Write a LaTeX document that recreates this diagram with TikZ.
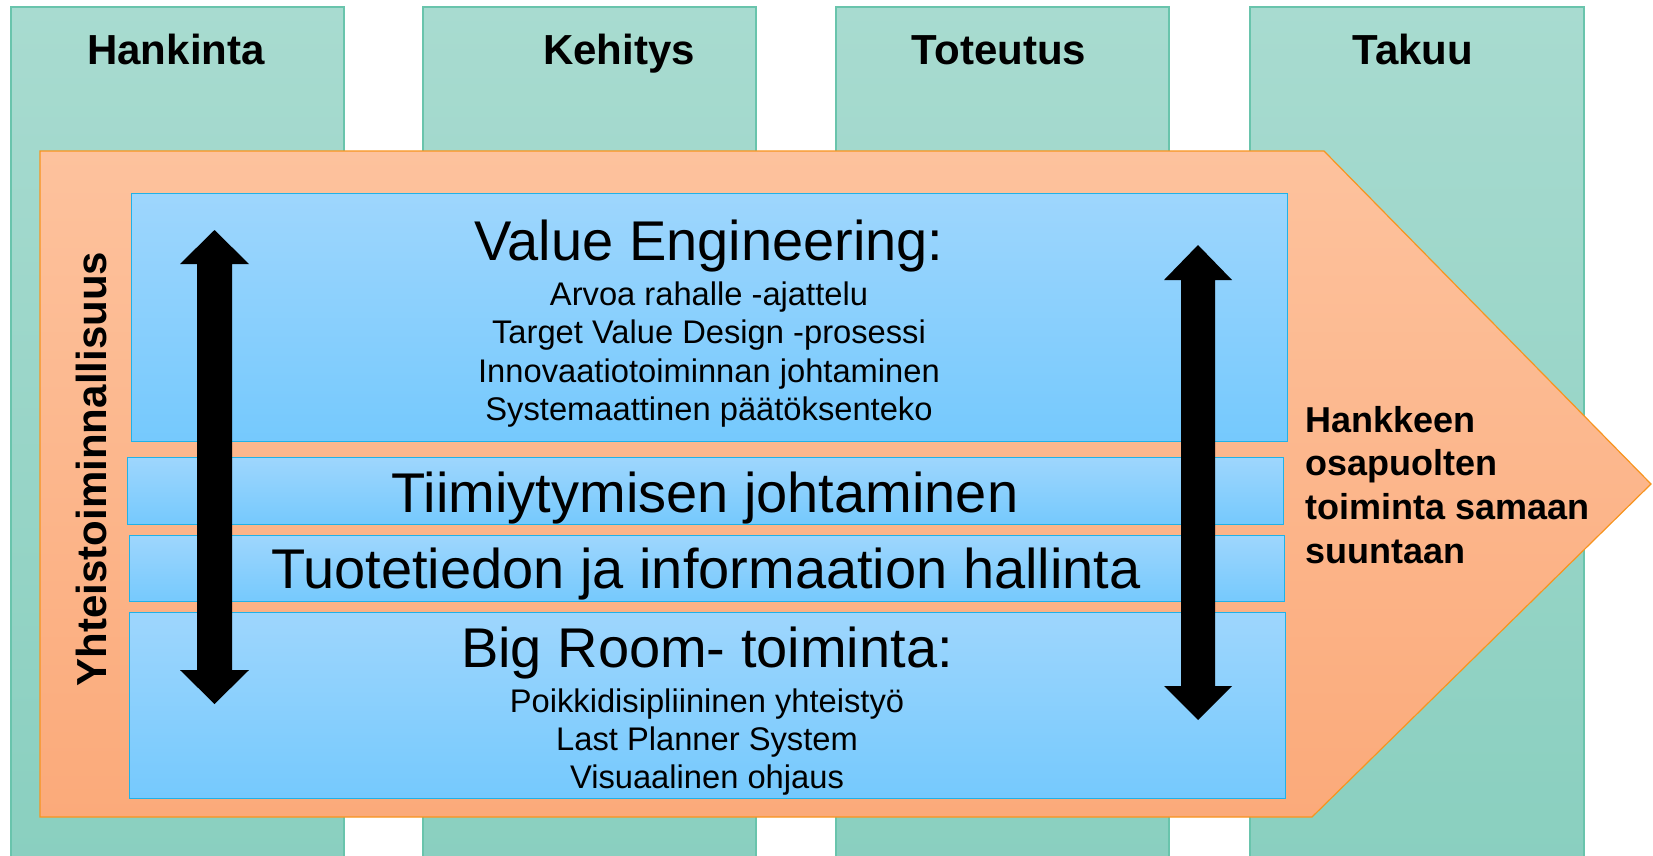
\documentclass[tikz,border=0pt]{standalone}
\usepackage{fontspec}
\setmainfont{Liberation Sans}
\definecolor{tealT}{RGB}{168,219,208}
\definecolor{tealB}{RGB}{137,207,191}
\definecolor{tealD}{RGB}{105,196,172}
\definecolor{orT}{RGB}{253,194,157}
\definecolor{orB}{RGB}{251,170,122}
\definecolor{orD}{RGB}{247,148,30}
\definecolor{blT}{RGB}{158,214,253}
\definecolor{blB}{RGB}{117,201,253}
\definecolor{blD}{RGB}{32,178,232}
\tikzset{
  colbox/.style={top color=tealT, bottom color=tealB, draw=tealD, line width=1.2pt},
  orangebox/.style={top color=orT, bottom color=orB, draw=orD, line width=1.2pt},
  bluebox/.style={top color=blT, bottom color=blB, draw=blD, line width=1.4pt, inner sep=0pt, anchor=north west},
  head/.style={anchor=base, font=\bfseries\fontsize{42}{42}\selectfont},
  bigtxt/.style={anchor=base, font=\fontsize{56}{56}\selectfont},
  subtxt/.style={anchor=base, font=\fontsize{32.7}{33}\selectfont},
  sidetxt/.style={anchor=base west, font=\bfseries\fontsize{36}{36}\selectfont},
  blackarrow/.style={fill=black}
}
\begin{document}
\begin{tikzpicture}[x=1pt,y=-1pt]
\useasboundingbox (0,0) rectangle (1653,855);
% columns
\path[colbox] (11,7) rectangle (344,880);
\path[colbox] (423,7) rectangle (756,880);
\path[colbox] (836,7) rectangle (1169,880);
\path[colbox] (1250,7) rectangle (1584,880);
\node[head] (hankinta) at (176,64) {Hankinta};
\node[head] (kehitys) at (619,64) {Kehitys};
\node[head] (toteutus) at (999,64) {Toteutus};
\node[head] (takuu) at (1413,64) {Takuu};
% big orange arrow
\path[orangebox] (40,151) -- (1324,151) -- (1651,484) -- (1312,817) -- (40,817) -- cycle;
% blue boxes
\node[bluebox, minimum width=1156pt, minimum height=248pt] (ve) at (131,193) {};
\node[bluebox, minimum width=1156pt, minimum height=67pt] (tiimi) at (127,457) {};
\node[bluebox, minimum width=1155pt, minimum height=66pt] (tuote) at (129,535) {};
\node[bluebox, minimum width=1156pt, minimum height=186pt] (bigroom) at (129,612) {};
% texts
\node[bigtxt] (vet) at (709,260) {Value Engineering:};
\node[subtxt] (ve1) at (709,305) {Arvoa rahalle -ajattelu};
\node[subtxt] (ve2) at (709,343) {Target Value Design -prosessi};
\node[subtxt] (ve3) at (709,382) {Innovaatiotoiminnan johtaminen};
\node[subtxt] (ve4) at (709,420) {Systemaattinen päätöksenteko};
\node[bigtxt] (tiimit) at (705,512) {Tiimiytymisen johtaminen};
\node[bigtxt] (tuotet) at (706,588) {Tuotetiedon ja informaation hallinta};
\node[bigtxt] (brt) at (707,667) {Big Room- toiminta:};
\node[subtxt] (br1) at (707,712) {Poikkidisipliininen yhteistyö};
\node[subtxt] (br2) at (707,750) {Last Planner System};
\node[subtxt] (br3) at (707,788) {Visuaalinen ohjaus};
% black double arrows
\path[blackarrow] (214.5,230) -- (249,264) -- (232,264) -- (232,670) -- (249,670) -- (214.5,704)
  -- (180,670) -- (197,670) -- (197,264) -- (180,264) -- cycle;
\path[blackarrow] (1198,245) -- (1232,280) -- (1215,280) -- (1215,686) -- (1232,686) -- (1198,720)
  -- (1164,686) -- (1181,686) -- (1181,280) -- (1164,280) -- cycle;
% side texts
\node[head, rotate=90] (yht) at (106,469) {Yhteistoiminnallisuus};
\node[sidetxt] (s1) at (1302,432) {Hankkeen};
\node[sidetxt] (s2) at (1302,475) {osapuolten};
\node[sidetxt] (s3) at (1302,519) {toiminta samaan};
\node[sidetxt] (s4) at (1302,563) {suuntaan};
\end{tikzpicture}
\end{document}
